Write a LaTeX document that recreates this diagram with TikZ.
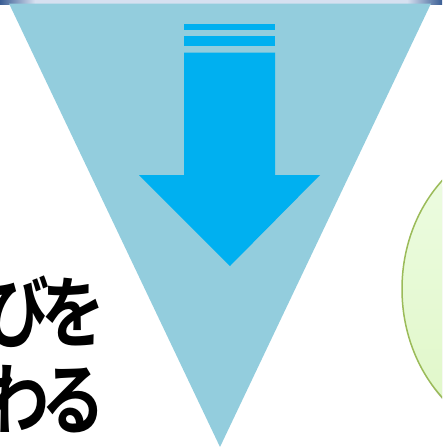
\documentclass[tikz,border=0pt]{standalone}
\usepackage{fontspec}
\newfontfamily\jpfont{Noto Sans CJK JP Bold}

\definecolor{funnelblue}{HTML}{93CDDD}
\definecolor{arrowcyan}{HTML}{00B0F0}
\definecolor{barlight}{HTML}{D6E0F0}
\definecolor{bardark}{HTML}{3B5E94}
\definecolor{leafedge}{HTML}{9BBB59}
\definecolor{leaftop}{HTML}{EEFCE4}
\definecolor{leafbottom}{HTML}{DFF7C6}

\newcommand{\narrowjp}[1]{\scalebox{0.82}[1]{#1}}

\begin{document}
\begin{tikzpicture}[x=1pt,y=-1pt,
	funnel/.style={fill=funnelblue},
	arrowbody/.style={fill=arrowcyan},
	leaf/.style={draw=leafedge,line width=1.5pt,top color=leaftop,bottom color=leafbottom},
	jtext/.style={font=\jpfont\fontsize{78}{86}\selectfont,inner sep=0pt,anchor=east}]
	% frame
	\path[use as bounding box,clip] (0,0) rectangle (442,447);

	% top bar
	\fill[barlight] (0,0) rectangle (442,4);
	\shade[left color=bardark,right color=barlight] (0,0) rectangle (35,4);
	\shade[left color=barlight,right color=bardark] (407,0) rectangle (442,4);

	% funnel
	\coordinate (TL) at (9,3.5);
	\coordinate (TR) at (431,3.5);
	\coordinate (tip) at (220,447);
	\fill[funnel] (TL) -- (TR) -- (tip) -- cycle;

	% striped arrow
	\fill[arrowbody] (184,24) rectangle (275,29.5);
	\fill[arrowbody] (184,35.5) rectangle (275,46);
	\fill[arrowbody] (184,52.5) -- (275,52.5) -- (275,175) -- (320,175)
		-- (230,266) -- (139,175) -- (184,175) -- cycle;

	% ellipse on the right
	\fill[black!20] (534,293) ellipse [x radius=130,y radius=150];
	\path[leaf] (532,289) ellipse [x radius=130,y radius=150];

	% text
	\node[jtext] (line1) at (106,312) {\narrowjp{び\kern-9pt を}};
	\node[jtext] (line2) at (106,399) {\narrowjp{わ\kern-9pt る}};
\end{tikzpicture}
\end{document}
